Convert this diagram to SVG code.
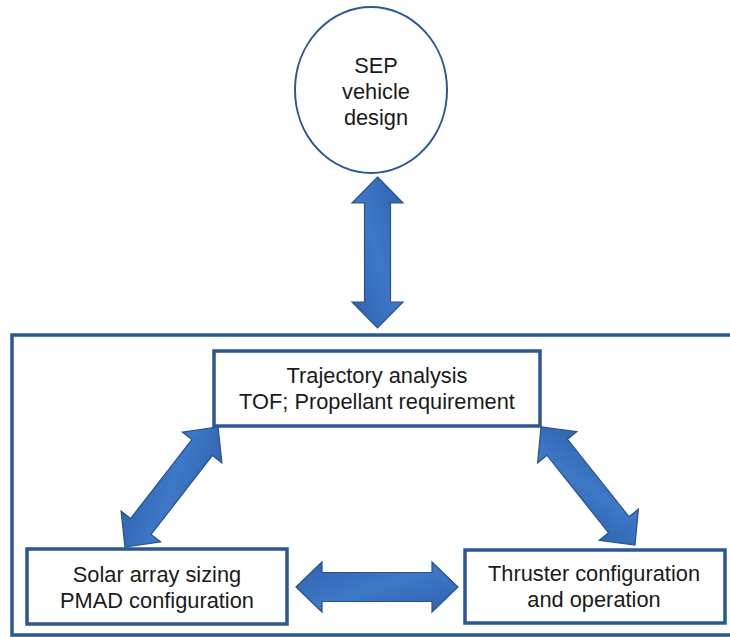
<svg xmlns="http://www.w3.org/2000/svg" width="730" height="637" viewBox="0 0 730 637">
<defs>
<linearGradient id="ag" x1="0" y1="0" x2="1" y2="1">
<stop offset="0" stop-color="#2f62ad"/>
<stop offset="0.5" stop-color="#3d78c6"/>
<stop offset="1" stop-color="#2f62ad"/>
</linearGradient>
<style>
.box{fill:#fff;stroke:#2b5793;stroke-width:3.5}
.frame{fill:none;stroke:#2b5793;stroke-width:3.5}
.t{font-family:"Liberation Sans",Arial,sans-serif;font-size:21.8px;fill:#1a1a1a;text-anchor:middle}
.arr{fill:url(#ag);stroke:#27528c;stroke-width:1.2;stroke-linejoin:miter}
</style>
</defs>
<rect width="730" height="637" fill="#fff"/>
<rect class="frame" x="12" y="335" width="730" height="300"/>
<g id="sep">
<ellipse cx="371" cy="90" rx="76" ry="83" fill="#fff" stroke="#2b5793" stroke-width="2"/>
<text class="t" x="376" y="73">SEP</text>
<text class="t" x="376" y="99">vehicle</text>
<text class="t" x="376" y="125">design</text>
</g>
<g id="traj">
<rect class="box" x="214" y="351" width="326" height="75"/>
<text class="t" x="377" y="383">Trajectory analysis</text>
<text class="t" x="377" y="409">TOF; Propellant requirement</text>
</g>
<g id="solar">
<rect class="box" x="27" y="549" width="260" height="75"/>
<text class="t" x="157" y="582">Solar array sizing</text>
<text class="t" x="157" y="608">PMAD configuration</text>
</g>
<g id="thruster">
<rect class="box" x="465" y="550" width="260" height="73"/>
<text class="t" x="594" y="581">Thruster configuration</text>
<text class="t" x="594" y="607">and operation</text>
</g>
<g id="connectors">
<polygon class="arr" transform="translate(377.5,252.5) rotate(90)" points="-75.5,0 -49.5,-25.5 -49.5,-13 49.5,-13 49.5,-25.5 75.5,0 49.5,25.5 49.5,13 -49.5,13 -49.5,25.5"/>
<polygon class="arr" transform="translate(377,587)" points="-81,0 -55,-25 -55,-14.5 55,-14.5 55,-25 81,0 55,25 55,14.5 -55,14.5 -55,25"/>
<polygon class="arr" transform="translate(171.5,487) rotate(127.8)" points="-76,0 -50,-25 -50,-13 50,-13 50,-25 76,0 50,25 50,13 -50,13 -50,25"/>
<polygon class="arr" transform="translate(588,486) rotate(51.5)" points="-75.5,0 -49.5,-25 -49.5,-13 49.5,-13 49.5,-25 75.5,0 49.5,25 49.5,13 -49.5,13 -49.5,25"/>
</g>
</svg>
